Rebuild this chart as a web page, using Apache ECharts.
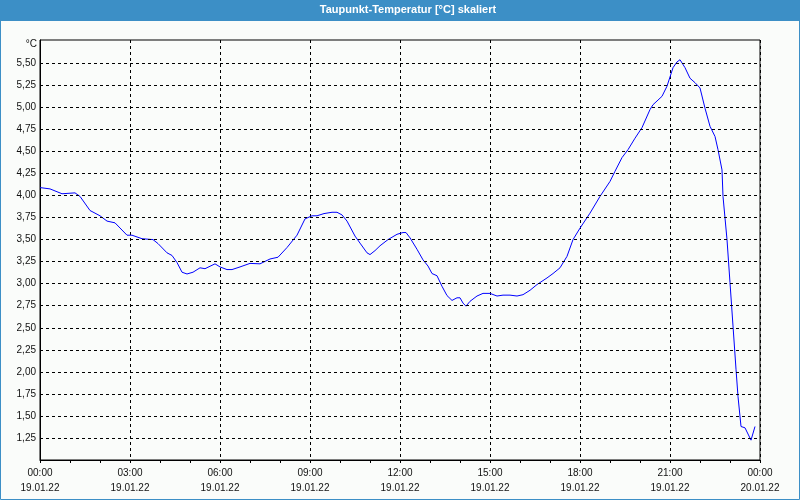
<!DOCTYPE html>
<html>
<head>
<meta charset="utf-8">
<script src="https://cdn.jsdelivr.net/npm/echarts@6/dist/echarts.min.js"></script>
<style>html,body{margin:0;padding:0;background:#fafcfa}#c{width:800px;height:500px}</style>
</head>
<body>
<div id="c"></div>
<script>
// minutes since 19.01.22 00:00
const times = [0,20,44,70,80,100,120,134,150,174,184,204,226,236,254,264,274,284,294,306,320,330,350,360,374,384,400,420,440,460,476,494,514,530,544,554,568,584,594,604,614,630,640,654,660,670,680,696,714,726,732,740,754,766,776,784,794,804,814,824,834,840,846,852,860,874,886,900,914,926,940,954,966,980,994,1014,1026,1040,1054,1066,1080,1100,1120,1140,1150,1164,1176,1190,1204,1220,1226,1244,1254,1266,1274,1280,1290,1300,1310,1320,1330,1340,1350,1356,1364,1366,1374,1380,1386,1392,1396,1402,1410,1422,1430];
const values = [4.09,4.075,4.02,4.03,3.99,3.83,3.77,3.71,3.69,3.55,3.55,3.51,3.50,3.455,3.35,3.32,3.24,3.13,3.11,3.13,3.18,3.17,3.225,3.19,3.16,3.16,3.19,3.23,3.225,3.28,3.30,3.41,3.55,3.735,3.77,3.77,3.795,3.81,3.81,3.78,3.71,3.54,3.46,3.35,3.33,3.375,3.43,3.50,3.56,3.58,3.58,3.52,3.39,3.27,3.20,3.115,3.09,2.97,2.865,2.81,2.84,2.84,2.78,2.745,2.80,2.86,2.89,2.89,2.86,2.87,2.87,2.86,2.875,2.925,2.99,3.065,3.115,3.18,3.31,3.50,3.63,3.80,3.99,4.16,4.275,4.43,4.52,4.65,4.77,4.975,5.03,5.125,5.24,5.45,5.515,5.54,5.45,5.33,5.28,5.22,4.99,4.785,4.67,4.52,4.29,3.99,3.50,3.01,2.52,2.03,1.72,1.38,1.365,1.225,1.38];
const xTickLabels = ['00:00\n19.01.22','03:00\n19.01.22','06:00\n19.01.22','09:00\n19.01.22','12:00\n19.01.22','15:00\n19.01.22','18:00\n19.01.22','21:00\n19.01.22','00:00\n20.01.22'];
const yTickLabels = ['1,25','1,50','1,75','2,00','2,25','2,50','2,75','3,00','3,25','3,50','3,75','4,00','4,25','4,50','4,75','5,00','5,25','5,50'];
const yTickValues = yTickLabels.map(s => parseFloat(s.replace(',', '.')));
const titleText = 'Taupunkt-Temperatur [°C] skaliert';
const unitText = '°C';

const chart = echarts.init(document.getElementById('c'), null, {renderer: 'canvas'});
const font = 'Liberation Sans';
chart.setOption({
  backgroundColor: '#fafcfa',
  animation: false,
  textStyle: {fontFamily: font},
  graphic: [
    {type: 'rect', shape: {x: 0, y: 0, width: 800, height: 21}, style: {fill: '#3c8fc6'}, z: 0},
    {type: 'rect', shape: {x: 0.5, y: 0.5, width: 799, height: 499}, style: {fill: null, stroke: '#3c8fc6', lineWidth: 1}, z: 0},
    {type: 'text', x: 408, y: 10, style: {text: titleText, fill: '#fff', font: 'bold 11px "Liberation Sans"', textAlign: 'center', textVerticalAlign: 'middle'}, z: 1},
    {type: 'text', x: 37, y: 44, style: {text: unitText, fill: '#111', font: '10px "Liberation Sans"', textAlign: 'right', textVerticalAlign: 'middle'}, z: 1}
  ],
  grid: {left: 40, right: 40, top: 40, bottom: 40, show: true, borderColor: '#000', borderWidth: 1, backgroundColor: 'transparent'},
  xAxis: {
    type: 'value', min: 0, max: 1440, interval: 180,
    axisLine: {show: true, lineStyle: {color: '#000', width: 1}},
    axisTick: {show: true, length: 3, lineStyle: {color: '#000'}},
    minorTick: {show: true, splitNumber: 3, length: 3, lineStyle: {color: '#000'}},
    splitLine: {show: true, lineStyle: {color: '#000', type: [3, 3], width: 1}},
    axisLabel: {
      color: '#111', fontSize: 10, fontFamily: font, lineHeight: 15, margin: 6,
      formatter: v => xTickLabels[Math.round(v / 180)] || ''
    }
  },
  yAxis: {
    type: 'value', min: 1.0, max: 5.764, interval: 0.25,
    axisLine: {show: true, lineStyle: {color: '#000', width: 1}},
    axisTick: {show: false},
    splitLine: {show: false},
    axisLabel: {
      color: '#111', fontSize: 10, fontFamily: font, margin: 4,
      formatter: v => { const s = v.toFixed(2).replace('.', ','); return yTickLabels.includes(s) ? s : ''; }
    }
  },
  series: [{
    type: 'line',
    data: times.map((t, i) => [t, values[i]]),
    showSymbol: false,
    lineStyle: {color: '#0000ff', width: 1},
    itemStyle: {color: '#0000ff'},
    z: 3,
    markLine: {
      silent: true, symbol: 'none', animation: false,
      label: {show: false},
      lineStyle: {color: '#000', type: [3, 3], width: 1},
      data: yTickValues.map(v => ({yAxis: v}))
    }
  }]
});
</script>
</body>
</html>
